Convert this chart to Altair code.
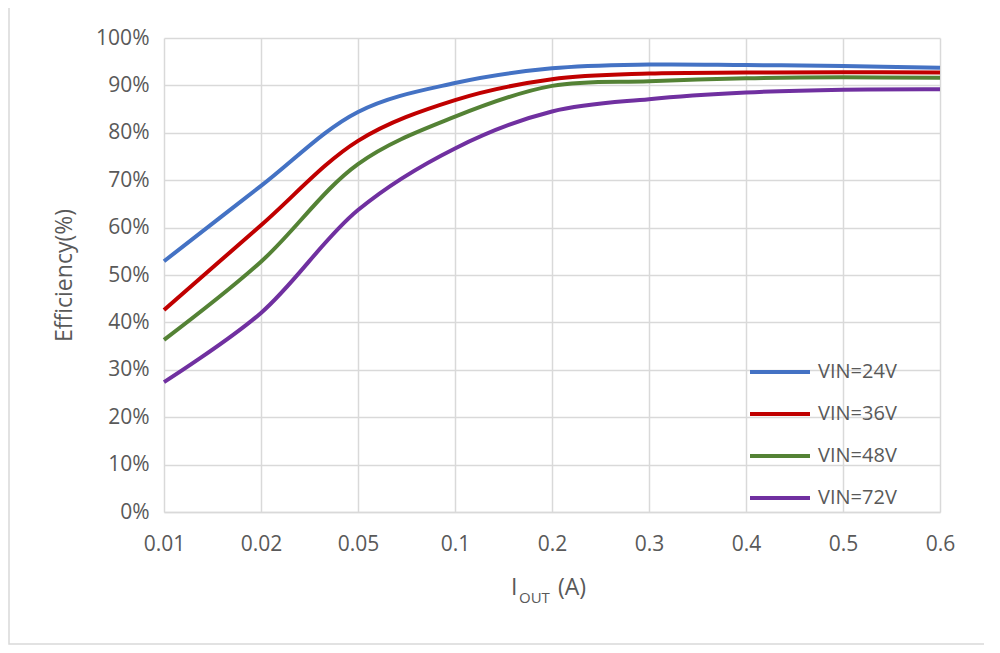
import altair as alt
import pandas as pd

iout = ["0.01", "0.02", "0.05", "0.1", "0.2", "0.3", "0.4", "0.5", "0.6"]
series = ["VIN=24V", "VIN=36V", "VIN=48V", "VIN=72V"]
colors = ["#4472C4", "#C00000", "#548235", "#7030A0"]
eff_24 = [0.529, 0.688, 0.844, 0.905, 0.936, 0.944, 0.943, 0.941, 0.937]
eff_36 = [0.426, 0.605, 0.783, 0.869, 0.913, 0.925, 0.927, 0.928, 0.927]
eff_48 = [0.363, 0.528, 0.734, 0.834, 0.899, 0.909, 0.915, 0.917, 0.916]
eff_72 = [0.274, 0.420, 0.637, 0.767, 0.845, 0.871, 0.885, 0.891, 0.892]

rows = []
for name, vals in zip(series, [eff_24, eff_36, eff_48, eff_72]):
    for x, v in zip(iout, vals):
        rows.append({"iout": x, "eff": v, "series": name})
df = pd.DataFrame(rows)

W, H = 776, 474
FONT = "Open Sans"
GRAY = "#595959"

lines = alt.Chart(df).mark_line(strokeWidth=4, interpolate="catmull-rom").encode(
    x=alt.X("iout:O", sort=iout, scale=alt.Scale(padding=0),
            axis=alt.Axis(title=None, labelAngle=0, labelFontSize=21, labelColor=GRAY,
                          labelFont=FONT, labelPadding=21, ticks=False, grid=True,
                          gridColor="#D9D9D9", gridWidth=1.5, domainColor="#D9D9D9",
                          domainWidth=1.5)),
    y=alt.Y("eff:Q", scale=alt.Scale(domain=[0, 1]),
            axis=alt.Axis(title="Efficiency(%)", format=".0%", values=[i / 10 for i in range(11)],
                          labelFontSize=21, labelColor=GRAY, labelFont=FONT, labelPadding=15,
                          ticks=False, domain=False, grid=True, gridColor="#D9D9D9", gridWidth=1.5,
                          titleFont=FONT, titleFontSize=23, titleColor=GRAY, titleFontWeight="normal",
                          titlePadding=19)),
    color=alt.Color("series:N", sort=series, scale=alt.Scale(domain=series, range=colors),
                    legend=alt.Legend(title=None, orient="none", legendX=584, legendY=302,
                                      symbolType="stroke", symbolSize=3600, symbolStrokeWidth=4,
                                      labelFontSize=20, labelColor=GRAY, labelFont=FONT,
                                      rowPadding=-1, labelOffset=6)),
)

border = alt.Chart(pd.DataFrame({"a": [0]})).mark_rect(
    fill=None, stroke="#D9D9D9", strokeWidth=1.5, clip=False
).encode(x=alt.value(-155), x2=alt.value(827), y=alt.value(-31), y2=alt.value(606))

title_df = pd.DataFrame({"a": [0]})
t_i = alt.Chart(title_df).mark_text(text="I", font=FONT, fontSize=23, color=GRAY, align="left",
                                    baseline="alphabetic").encode(x=alt.value(347), y=alt.value(557))
t_out = alt.Chart(title_df).mark_text(text="OUT", font=FONT, fontSize=15, color=GRAY, align="left",
                                      baseline="alphabetic").encode(x=alt.value(355), y=alt.value(565))
t_a = alt.Chart(title_df).mark_text(text="(A)", font=FONT, fontSize=23, color=GRAY, align="left",
                                    baseline="alphabetic").encode(x=alt.value(394), y=alt.value(557))

chart = alt.layer(border, lines, t_i, t_out, t_a).properties(
    width=W, height=H,
    padding={"left": 156, "top": 30, "right": 44, "bottom": 133},
    autosize=alt.AutoSizeParams(type="none"),
).configure_view(stroke=None)

chart.save("out.html", embed_options={"renderer": "svg", "actions": False})
